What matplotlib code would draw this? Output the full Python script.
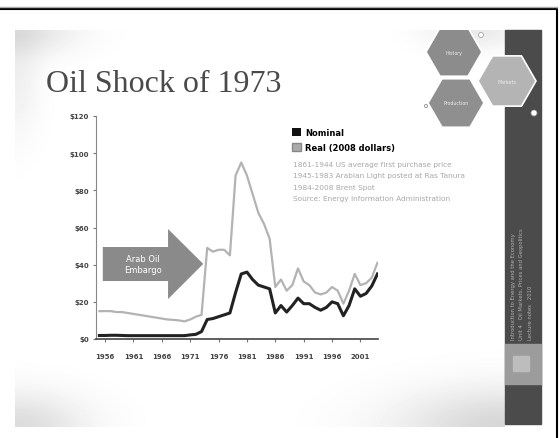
import numpy as np
import matplotlib.pyplot as plt
from matplotlib.patches import Rectangle, RegularPolygon, Polygon, Patch, Circle

# crude oil price, US$ per barrel
years = list(range(1955, 2005))
nominal = [1.9, 1.9, 2.0, 2.0, 1.9, 1.8, 1.8, 1.8, 1.8, 1.8,
           1.8, 1.8, 1.8, 1.8, 1.8, 1.8, 2.2, 2.5, 4.0, 10.5,
           11.0, 12.0, 13.0, 14.0, 25.0, 35.0, 36.0, 32.0, 29.0, 28.0,
           27.0, 14.0, 18.0, 14.5, 18.0, 22.0, 19.0, 19.0, 17.0, 15.5,
           17.0, 20.0, 19.0, 12.5, 18.0, 27.0, 23.0, 24.5, 28.5, 35.0]
real = [15.0, 15.0, 15.0, 14.5, 14.5, 14.0, 13.5, 13.0, 12.5, 12.0,
        11.5, 11.0, 10.5, 10.3, 10.0, 9.5, 10.5, 12.0, 13.0, 49.0,
        47.0, 48.0, 48.0, 45.0, 88.0, 95.0, 88.0, 78.0, 68.0, 62.0,
        54.0, 28.0, 32.0, 26.0, 29.0, 38.0, 31.0, 29.0, 25.0, 24.0,
        25.0, 28.0, 26.0, 19.0, 26.0, 35.0, 29.0, 30.0, 33.0, 41.0]

tick_years = [1956, 1961, 1966, 1971, 1976, 1981, 1986, 1991, 1996, 2001]
price_ticks = [0, 20, 40, 60, 80, 100, 120]
price_labels = ['$0', '$20', '$40', '$60', '$80', '$100', '$120']
legend_labels = ['Nominal', 'Real (2008 dollars)']
source_notes = ['1861-1944 US average first purchase price',
                '1945-1983 Arabian Light posted at Ras Tanura',
                '1984-2008 Brent Spot',
                'Source: Energy Information Administration']
title = 'Oil Shock of 1973'
arrow_label = 'Arab Oil\nEmbargo'

W, H = 560, 439
fig = plt.figure(figsize=(W / 100, H / 100), dpi=100)

# slide background, drawn in pixel units
bg = fig.add_axes([0, 0, 1, 1])
bg.set_xlim(0, W)
bg.set_ylim(H, 0)
bg.axis('off')

yy, xx = np.mgrid[0:H, 0:W]


def blob(cx, cy, sx, sy, amt):
    return amt * np.exp(-(((xx - cx) / sx) ** 2 + ((yy - cy) / sy) ** 2))


shade = (blob(15, 31, 60, 25, 0.12) + blob(15, 80, 25, 60, 0.06)
         + blob(15, 428, 70, 35, 0.14) + blob(505, 428, 110, 40, 0.16)
         + blob(475, 31, 50, 20, 0.08))
img = 1 - np.clip(shade, 0, 0.3)
bg.imshow(img[31:428, 15:505], cmap='gray', vmin=0, vmax=1,
          extent=(15, 505, 428, 31), interpolation='bilinear',
          aspect='auto', zorder=0)

# outer frame
bg.plot([0, 557, 557], [10, 10, H], color='black', lw=1.5, zorder=1)
bg.plot([0, 557], [8, 8], color='#aaaaaa', lw=1, zorder=1)

# dark side bar
bg.add_patch(Rectangle((505, 31), 36, 394, color='#4b4b4b', zorder=1))
bg.add_patch(Rectangle((505, 345), 36, 40, color='#9c9c9c', zorder=2))
bg.add_patch(Rectangle((513, 357), 16, 15, color='#bdbdbd', zorder=2))
side_text = ['Introduction to Energy and the Economy',
             'Unit 4   Oil Markets, Prices and Geopolitics',
             'Lecture notes   2010']
for sx, s in zip([513, 522, 531], side_text):
    bg.text(sx, 340, s, rotation=90, fontsize=3.8, color='#b0b0b0',
            ha='center', va='bottom', zorder=3)

# hexagons
slide_clip = Rectangle((15, 31), 526, 394, transform=bg.transData)
hexes = [((454, 53), 28, '#8c8c8c'), ((456, 104), 28, '#8f8f8f'),
         ((507, 82), 29, '#b4b4b4')]
for (cx, cy), r, c in hexes:
    hx = RegularPolygon((cx, cy), 6, radius=r, orientation=np.pi / 6,
                        facecolor=c, edgecolor='white', lw=1.2, zorder=3)
    bg.add_patch(hx)
    hx.set_clip_path(slide_clip)
for ((cx, cy), _, _), s in zip(hexes, ['History', 'Production', 'Markets']):
    bg.text(cx, cy, s, fontsize=3.4, color='#eeeeee', ha='center',
            va='center', zorder=4)
bg.add_patch(Circle((481, 36), 2.5, facecolor='white', edgecolor='#999999',
                    lw=0.5, zorder=4))
bg.add_patch(Circle((534, 114), 3, facecolor='white', edgecolor='#999999',
                    lw=0.5, zorder=4))
bg.add_patch(Circle((426, 107), 1.5, facecolor='white', edgecolor='#888888',
                    lw=0.6, zorder=4))

bg.text(46, 92, title, fontsize=23, family='Liberation Serif',
        color='#4a4a4a', va='baseline', zorder=3)

# price chart
ax = fig.add_axes([96 / W, (H - 340) / H, 282 / W, 223 / H])
ax.set_facecolor('none')
ax.plot(years, real, color='#b3b3b3', lw=1.6, zorder=3)
ax.plot(years, nominal, color='#222222', lw=2.2, zorder=4)
ax.set_xlim(1954.4, 2004.1)
ax.set_ylim(0, 120)
ax.set_xticks(tick_years)
ax.set_xticklabels([str(y) for y in tick_years])
ax.set_yticks(price_ticks)
ax.set_yticklabels(price_labels)
for lab in ax.get_xticklabels() + ax.get_yticklabels():
    lab.set_fontsize(5)
    lab.set_fontweight('bold')
    lab.set_color('#444444')
ax.tick_params(axis='both', length=2, width=0.8, color='#777777', pad=3)
ax.tick_params(axis='x', pad=8)
ax.spines['top'].set_visible(False)
ax.spines['right'].set_visible(False)
ax.spines['left'].set_color('#888888')
ax.spines['bottom'].set_color('#444444')
ax.spines['bottom'].set_linewidth(1.2)

# embargo arrow
arrow = Polygon([(1955.6, 31.2), (1967.1, 31.2), (1967.1, 21.5), (1973.3, 40.4),
                 (1967.1, 59.2), (1967.1, 49.5), (1955.6, 49.5)],
                closed=True, facecolor='#8a8a8a', edgecolor='none', zorder=2)
ax.add_patch(arrow)
ax.text(1962.7, 40.2, arrow_label, fontsize=6, color='white', ha='center',
        va='center', linespacing=1.3, zorder=3)

handles = [Patch(facecolor='#111111'), Patch(facecolor='#aaaaaa', edgecolor='#888888')]
ax.legend(handles, legend_labels, loc='upper left',
          bbox_to_anchor=((292 - 96) / 282, (340 - 129) / 223), frameon=False,
          prop={'size': 6, 'weight': 'bold'}, handlelength=1.1, handleheight=1.1,
          handletextpad=0.5, borderaxespad=0, borderpad=0, labelspacing=0.75)

for i, note in enumerate(source_notes):
    ax.text((293 - 96) / 282, (340 - 165 - i * 11.5) / 223, note,
            transform=ax.transAxes, fontsize=5.3, color='#a8a8a8',
            va='center', ha='left', zorder=3)

fig.savefig('out.png', dpi=100)
